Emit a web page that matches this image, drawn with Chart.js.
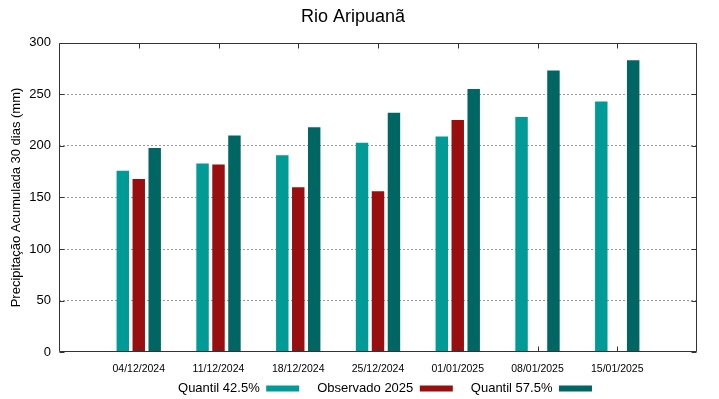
<!DOCTYPE html>
<html>
<head>
<meta charset="utf-8">
<script src="https://cdn.jsdelivr.net/npm/chart.js@4"></script>
<style>
html,body{margin:0;padding:0;background:#fff;}
#wrap{width:719px;height:399px;}
</style>
</head>
<body>
<div id="wrap"><canvas id="c" width="719" height="399"></canvas></div>
<script>
const categories = ['04/12/2024','11/12/2024','18/12/2024','25/12/2024','01/01/2025','08/01/2025','15/01/2025'];
const quantil425 = [176, 183, 191, 203, 209, 228, 243];
const observado2025 = [168, 182, 160, 156, 225, null, null];
const quantil575 = [198, 210, 218, 232, 255, 273, 283];
const yTicks = [0, 50, 100, 150, 200, 250, 300];

const labels = [''].concat(categories, ['']);
const pad = arr => [null].concat(arr, [null]);

const legendShift = {
  id: 'legendShift',
  afterLayout(chart) {
    const lg = chart.legend;
    if (!lg) return;
    const dy = -13, dx = 32;
    lg.top += dy; lg.bottom += dy;
    lg.left += dx; lg.right += dx;
  }
};

const frame = {
  id: 'frame',
  afterDraw(chart) {
    const {ctx, chartArea: a, scales} = chart;
    ctx.save();
    ctx.strokeStyle = '#333';
    ctx.lineWidth = 1;
    ctx.setLineDash([]);
    ctx.beginPath();
    const L = Math.round(a.left) + 0.5, R = Math.round(a.right) - 0.5;
    const T = Math.round(a.top) + 0.5, B = Math.round(a.bottom) - 0.5;
    ctx.rect(L, T, R - L, B - T);
    for (let i = 1; i <= categories.length; i++) {
      const x = Math.round(scales.x.getPixelForValue(i)) + 0.5;
      ctx.moveTo(x, T); ctx.lineTo(x, T + 5);
      ctx.moveTo(x, B); ctx.lineTo(x, B - 5);
    }
    yTicks.forEach(v => {
      const y = Math.round(scales.y.getPixelForValue(v)) + 0.5;
      ctx.moveTo(L, y); ctx.lineTo(L + 5, y);
      ctx.moveTo(R, y); ctx.lineTo(R - 5, y);
    });
    ctx.stroke();
    ctx.restore();
  }
};

new Chart(document.getElementById('c'), {
  type: 'bar',
  data: {
    labels: labels,
    datasets: [
      {label: 'Quantil 42.5%', data: pad(quantil425), backgroundColor: '#009a97'},
      {label: 'Observado 2025', data: pad(observado2025), backgroundColor: '#990f0f'},
      {label: 'Quantil 57.5%', data: pad(quantil575), backgroundColor: '#006664'}
    ]
  },
  options: {
    responsive: false,
    animation: false,
    devicePixelRatio: 1,
    layout: {padding: {left: 9, right: 22, top: 0, bottom: -19}},
    datasets: {bar: {categoryPercentage: 0.6, barPercentage: 0.78}},
    plugins: {
      title: {
        display: true,
        text: 'Rio Aripuanã',
        color: '#000',
        font: {family: 'Liberation Sans', size: 18, weight: 'normal'},
        padding: {top: 6, bottom: 15}
      },
      legend: {
        position: 'bottom',
        rtl: true,
        reverse: true,
        labels: {
          color: '#000',
          font: {family: 'Liberation Sans', size: 13},
          boxWidth: 33,
          boxHeight: 6,
          padding: 18
        }
      },
      tooltip: {enabled: false}
    },
    scales: {
      x: {
        offset: false,
        grid: {display: false, offset: false},
        border: {display: false},
        ticks: {
          autoSkip: false, maxRotation: 0, minRotation: 0,
          color: '#000',
          font: {family: 'Liberation Sans', size: 10.5},
          padding: 2
        }
      },
      y: {
        min: 0, max: 300,
        afterFit(scale) { scale.width = 50; },
        border: {display: false, dash: [2, 2]},
        grid: {
          color: ctx => (ctx.tick && (ctx.tick.value === 0 || ctx.tick.value === 300)) ? 'rgba(0,0,0,0)' : '#9a9a9a',
          lineWidth: 1,
          drawTicks: false
        },
        ticks: {
          stepSize: 50,
          color: '#000',
          font: {family: 'Liberation Sans', size: 13},
          padding: 8
        },
        title: {
          display: true,
          text: 'Precipitação Acumulada 30 dias (mm)',
          color: '#000',
          font: {family: 'Liberation Sans', size: 13},
          padding: {top: 0, bottom: 4}
        }
      }
    }
  },
  plugins: [frame, legendShift]
});
</script>
</body>
</html>
